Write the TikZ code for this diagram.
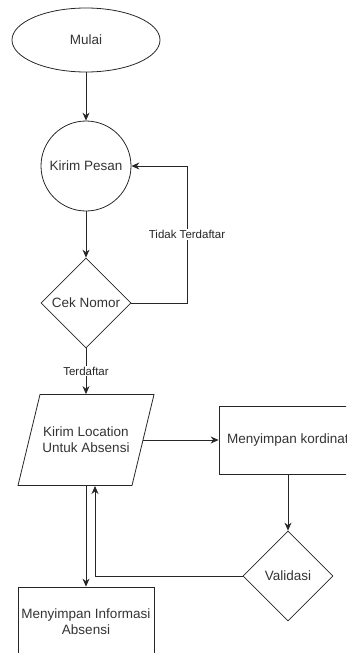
\documentclass[tikz,border=0pt]{standalone}
\usepackage{fontspec}
\setmainfont{Liberation Sans}
\usetikzlibrary{shapes.geometric,arrows.meta}
\begin{document}
\begin{tikzpicture}[x=1pt,y=-1pt,
  base/.style={draw=black!85, line width=0.8pt, text=black!80, font=\fontsize{13.5}{16}\selectfont, align=center, inner sep=0pt},
  term/.style={base, ellipse, minimum width=148pt, minimum height=64pt},
  circ/.style={base, circle, minimum size=90pt},
  dec/.style={base, diamond, aspect=1, minimum width=90pt, minimum height=90pt},
  proc/.style={base, rectangle},
  lbl/.style={fill=white, text=black!85, font=\fontsize{11.5}{14}\selectfont, inner sep=1pt},
  arr/.style={draw=black!85, line width=0.8pt, -{Stealth[length=8pt,width=7pt]}}]
\useasboundingbox (0,0) rectangle (346,653);
\begin{scope}
\clip (0,0) rectangle (346,653);
\node[term] (mulai) at (86,40) {Mulai};
\node[circ] (pesan) at (86,166) {Kirim Pesan};
\node[dec] (cek) at (86,303) {Cek Nomor};
\node[base, draw=none, minimum width=114pt, minimum height=91pt] (loc) at (86,440) {Kirim Location\\Untuk Absensi};
\draw[draw=black!85, line width=0.8pt] (40,394.5) -- (154,394.5) -- (132,485.5) -- (18,485.5) -- cycle;
\node[proc, minimum width=138pt, minimum height=68pt] (koor) at (288,440) {Menyimpan kordinat};
\node[dec] (val) at (288,576) {Validasi};
\node[proc, minimum width=136pt, minimum height=70pt] (info) at (86,622) {Menyimpan Informasi\\Absensi};
\coordinate (c1) at (187,303);
\coordinate (c2) at (95,486);
\draw[arr] (mulai) -- (pesan);
\draw[arr] (pesan) -- (cek);
\draw[arr] (cek.east) -- (c1) |- (pesan.east) node[lbl, pos=0.25] {Tidak Terdaftar};
\draw[arr] (cek) -- (loc.north) node[lbl, midway] {Terdaftar};
\draw[arr] (loc.east) -- (koor.west);
\draw[arr] (koor) -- (val);
\draw[arr] (val.west) -| (c2);
\draw[arr] (loc.south) -- (info.north);
\end{scope}
\end{tikzpicture}
\end{document}
